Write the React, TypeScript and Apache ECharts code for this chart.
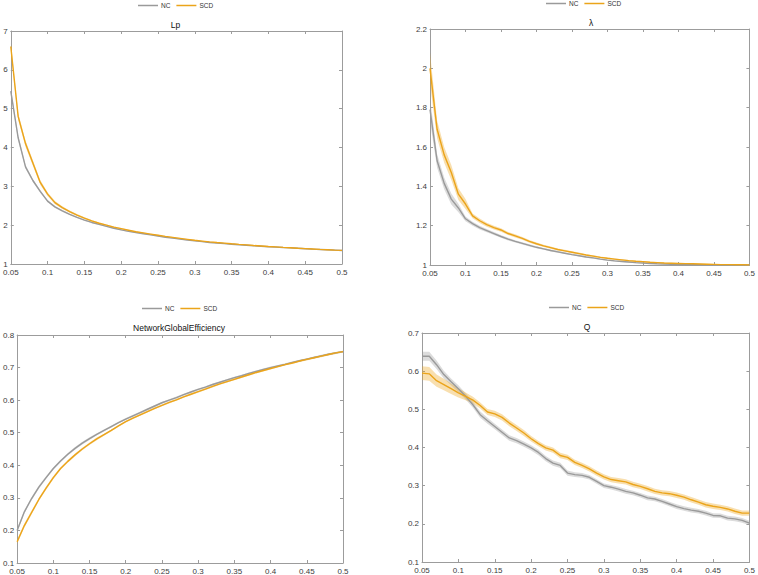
import React, { useEffect, useRef } from 'react';
import * as echarts from 'echarts';

// sparsity thresholds
const X = [0.05, 0.06, 0.07, 0.08, 0.09, 0.1, 0.11, 0.12, 0.13, 0.14, 0.15, 0.16, 0.17, 0.18, 0.19, 0.2, 0.21, 0.22, 0.23, 0.24, 0.25, 0.26, 0.27, 0.28, 0.29, 0.3, 0.31, 0.32, 0.33, 0.34, 0.35, 0.36, 0.37, 0.38, 0.39, 0.4, 0.41, 0.42, 0.43, 0.44, 0.45, 0.46, 0.47, 0.48, 0.49, 0.5];

// Lp
const lpNC = [5.45, 4.25, 3.5, 3.15, 2.87, 2.62, 2.47, 2.37, 2.28, 2.2, 2.13, 2.07, 2.02, 1.97, 1.92, 1.88, 1.84, 1.81, 1.78, 1.75, 1.72, 1.69, 1.665, 1.64, 1.615, 1.595, 1.575, 1.555, 1.54, 1.525, 1.51, 1.495, 1.483, 1.47, 1.458, 1.446, 1.435, 1.424, 1.414, 1.404, 1.394, 1.384, 1.375, 1.366, 1.357, 1.348];
const lpNCse = [0.09, 0.06, 0.05, 0.04, 0.035, 0.03, 0.025, 0.022, 0.02, 0.018, 0.016, 0.015, 0.014, 0.013, 0.012, 0.012, 0.011, 0.011, 0.01, 0.01, 0.01, 0.01, 0.009, 0.009, 0.009, 0.009, 0.008, 0.008, 0.008, 0.008, 0.008, 0.007, 0.007, 0.007, 0.007, 0.007, 0.006, 0.006, 0.006, 0.006, 0.006, 0.006, 0.006, 0.006, 0.006, 0.006];
const lpSCD = [6.6, 4.8, 4.1, 3.6, 3.1, 2.8, 2.58, 2.45, 2.35, 2.26, 2.18, 2.11, 2.05, 2.0, 1.95, 1.91, 1.87, 1.83, 1.8, 1.77, 1.74, 1.71, 1.685, 1.66, 1.635, 1.61, 1.59, 1.57, 1.553, 1.537, 1.521, 1.506, 1.492, 1.478, 1.465, 1.452, 1.44, 1.428, 1.417, 1.406, 1.396, 1.386, 1.376, 1.367, 1.358, 1.35];
const lpSCDse = [0.12, 0.09, 0.08, 0.07, 0.06, 0.05, 0.04, 0.035, 0.03, 0.027, 0.024, 0.022, 0.02, 0.018, 0.016, 0.015, 0.014, 0.013, 0.012, 0.012, 0.011, 0.011, 0.01, 0.01, 0.01, 0.009, 0.009, 0.009, 0.008, 0.008, 0.008, 0.008, 0.007, 0.007, 0.007, 0.007, 0.007, 0.006, 0.006, 0.006, 0.006, 0.006, 0.006, 0.006, 0.006, 0.006];

// lambda
const lamNC = [1.79, 1.53, 1.415, 1.335, 1.29, 1.235, 1.21, 1.19, 1.175, 1.16, 1.145, 1.132, 1.12, 1.11, 1.1, 1.09, 1.082, 1.074, 1.067, 1.06, 1.053, 1.047, 1.041, 1.036, 1.03, 1.025, 1.021, 1.018, 1.015, 1.012, 1.01, 1.008, 1.006, 1.005, 1.004, 1.003, 1.002, 1.002, 1.001, 1.001, 1.0, 1.0, 1.0, 1.0, 1.0, 1.0];
const lamNCse = [0.06, 0.035, 0.03, 0.028, 0.022, 0.012, 0.01, 0.009, 0.008, 0.008, 0.007, 0.007, 0.006, 0.006, 0.006, 0.005, 0.005, 0.005, 0.005, 0.004, 0.004, 0.004, 0.004, 0.004, 0.003, 0.003, 0.003, 0.003, 0.003, 0.003, 0.002, 0.002, 0.002, 0.002, 0.002, 0.002, 0.002, 0.002, 0.002, 0.002, 0.002, 0.002, 0.002, 0.002, 0.002, 0.002];
const lamSCD = [2.0, 1.69, 1.56, 1.47, 1.36, 1.31, 1.25, 1.225, 1.205, 1.19, 1.178, 1.16, 1.148, 1.135, 1.12, 1.108, 1.097, 1.088, 1.079, 1.072, 1.065, 1.058, 1.051, 1.045, 1.039, 1.034, 1.03, 1.026, 1.022, 1.019, 1.017, 1.014, 1.012, 1.01, 1.009, 1.008, 1.007, 1.006, 1.005, 1.004, 1.003, 1.002, 1.002, 1.001, 1.001, 1.0];
const lamSCDse = [0.08, 0.045, 0.04, 0.038, 0.03, 0.025, 0.012, 0.011, 0.01, 0.01, 0.009, 0.008, 0.008, 0.007, 0.007, 0.006, 0.006, 0.006, 0.005, 0.005, 0.005, 0.005, 0.004, 0.004, 0.004, 0.004, 0.003, 0.003, 0.003, 0.003, 0.003, 0.002, 0.002, 0.002, 0.002, 0.002, 0.002, 0.002, 0.002, 0.002, 0.002, 0.002, 0.002, 0.002, 0.002, 0.002];

// NetworkGlobalEfficiency
const geNC = [0.2, 0.257, 0.298, 0.333, 0.362, 0.39, 0.413, 0.434, 0.452, 0.468, 0.482, 0.495, 0.507, 0.519, 0.531, 0.542, 0.552, 0.562, 0.572, 0.582, 0.592, 0.6, 0.608, 0.617, 0.625, 0.633, 0.64, 0.648, 0.655, 0.662, 0.669, 0.675, 0.682, 0.688, 0.694, 0.7, 0.705, 0.71, 0.716, 0.721, 0.726, 0.731, 0.736, 0.741, 0.745, 0.749];
const geNCse = [0.006, 0.005, 0.005, 0.005, 0.004, 0.004, 0.004, 0.004, 0.004, 0.004, 0.004, 0.003, 0.003, 0.003, 0.003, 0.003, 0.003, 0.003, 0.003, 0.003, 0.003, 0.003, 0.003, 0.003, 0.003, 0.003, 0.003, 0.003, 0.003, 0.003, 0.003, 0.003, 0.003, 0.003, 0.003, 0.003, 0.003, 0.003, 0.003, 0.003, 0.003, 0.003, 0.003, 0.003, 0.003, 0.003];
const geSCD = [0.165, 0.215, 0.255, 0.295, 0.33, 0.362, 0.39, 0.412, 0.432, 0.45, 0.466, 0.481, 0.494, 0.507, 0.521, 0.534, 0.545, 0.555, 0.565, 0.575, 0.584, 0.593, 0.601, 0.61, 0.618, 0.626, 0.634, 0.642, 0.65, 0.657, 0.664, 0.671, 0.678, 0.685, 0.691, 0.697, 0.703, 0.709, 0.714, 0.72, 0.725, 0.73, 0.735, 0.74, 0.745, 0.749];
const geSCDse = [0.007, 0.006, 0.006, 0.005, 0.005, 0.005, 0.004, 0.004, 0.004, 0.004, 0.004, 0.004, 0.003, 0.003, 0.003, 0.003, 0.003, 0.003, 0.003, 0.003, 0.003, 0.003, 0.003, 0.003, 0.003, 0.003, 0.003, 0.003, 0.003, 0.003, 0.003, 0.003, 0.003, 0.003, 0.003, 0.003, 0.003, 0.003, 0.003, 0.003, 0.003, 0.003, 0.003, 0.003, 0.003, 0.003];

// Q
const qNC = [0.639, 0.639, 0.617, 0.591, 0.572, 0.554, 0.534, 0.512, 0.486, 0.47, 0.455, 0.44, 0.425, 0.418, 0.409, 0.399, 0.387, 0.371, 0.359, 0.353, 0.333, 0.329, 0.327, 0.322, 0.311, 0.3, 0.296, 0.291, 0.285, 0.281, 0.275, 0.268, 0.265, 0.259, 0.252, 0.245, 0.24, 0.236, 0.233, 0.228, 0.222, 0.221, 0.215, 0.213, 0.209, 0.202];
const qNCse = [0.012, 0.012, 0.011, 0.01, 0.009, 0.009, 0.008, 0.008, 0.008, 0.008, 0.007, 0.007, 0.007, 0.007, 0.007, 0.007, 0.007, 0.007, 0.007, 0.007, 0.007, 0.006, 0.006, 0.006, 0.006, 0.006, 0.006, 0.006, 0.006, 0.006, 0.006, 0.006, 0.006, 0.006, 0.006, 0.006, 0.006, 0.006, 0.006, 0.006, 0.006, 0.006, 0.006, 0.006, 0.006, 0.006];
const qSCD = [0.595, 0.593, 0.575, 0.565, 0.554, 0.543, 0.534, 0.524, 0.51, 0.493, 0.488, 0.479, 0.464, 0.451, 0.438, 0.423, 0.41, 0.399, 0.393, 0.379, 0.374, 0.361, 0.353, 0.344, 0.333, 0.323, 0.316, 0.313, 0.31, 0.303, 0.298, 0.292, 0.285, 0.281, 0.279, 0.275, 0.27, 0.263, 0.257, 0.25, 0.246, 0.243, 0.239, 0.233, 0.228, 0.228];
const qSCDse = [0.018, 0.018, 0.016, 0.015, 0.014, 0.012, 0.01, 0.009, 0.008, 0.008, 0.008, 0.008, 0.008, 0.008, 0.008, 0.007, 0.007, 0.007, 0.007, 0.007, 0.007, 0.007, 0.007, 0.007, 0.007, 0.007, 0.007, 0.007, 0.007, 0.007, 0.007, 0.007, 0.007, 0.007, 0.007, 0.007, 0.007, 0.007, 0.007, 0.007, 0.007, 0.007, 0.007, 0.007, 0.007, 0.007];

const NC_COLOR = '#9a9a9a';
const SCD_COLOR = '#EBA41A';
const AXIS_COLOR = '#9c9c9c';
const LABEL_COLOR = '#3c3c3c';
const FONT = '"Liberation Sans", Arial, Helvetica, sans-serif';

type Panel = {
  grid: { left: number; top: number; width: number; height: number };
  ymin: number; ymax: number; yint: number;
  title: string; titleY: number;
  legendLeft: number; legendTop: number;
  nc: number[]; ncSe: number[]; scd: number[]; scdSe: number[];
};

const panels: Panel[] = [
  { grid: { left: 9, top: 31, width: 333, height: 233 }, ymin: 1, ymax: 7, yint: 1, title: 'Lp', titleY: 25, legendLeft: 138, legendTop: 2, nc: lpNC, ncSe: lpNCse, scd: lpSCD, scdSe: lpSCDse },
  { grid: { left: 430, top: 29, width: 322, height: 236 }, ymin: 1, ymax: 2.2, yint: 0.2, title: 'λ', titleY: 23, legendLeft: 546, legendTop: 0, nc: lamNC, ncSe: lamNCse, scd: lamSCD, scdSe: lamSCDse },
  { grid: { left: 15, top: 335, width: 328, height: 228 }, ymin: 0.1, ymax: 0.8, yint: 0.1, title: 'NetworkGlobalEfficiency', titleY: 328, legendLeft: 142, legendTop: 305, nc: geNC, ncSe: geNCse, scd: geSCD, scdSe: geSCDse },
  { grid: { left: 422, top: 333, width: 330, height: 229 }, ymin: 0.1, ymax: 0.7, yint: 0.1, title: 'Q', titleY: 327, legendLeft: 549, legendTop: 304, nc: qNC, ncSe: qNCse, scd: qSCD, scdSe: qSCDse },
];

function bandSeries(i: number, m: number[], se: number[], color: string, name: string) {
  return {
    name, type: 'custom', xAxisIndex: 2 * i, yAxisIndex: 2 * i,
    silent: true, clip: true, z: 1,
    data: [[X[0], m[0]]],
    renderItem: (params: any, api: any) => {
      const upper = X.map((x, k) => api.coord([x, m[k] + se[k]]));
      const lower = X.map((x, k) => api.coord([x, m[k] - se[k]])).reverse();
      const cs = params.coordSys;
      return {
        type: 'polygon',
        shape: { points: upper.concat(lower) },
        style: { fill: color, opacity: 0.35, stroke: 'none' },
        clipPath: { type: 'rect', shape: { x: cs.x, y: cs.y, width: cs.width, height: cs.height } },
      };
    },
  };
}

function buildOption() {
  const grids: any[] = [];
  const xAxes: any[] = [];
  const yAxes: any[] = [];
  const legends: any[] = [];
  const series: any[] = [];
  const graphics: any[] = [];

  panels.forEach((p, i) => {
    grids.push({ ...p.grid, containLabel: false, show: false });
    const baseX = {
      type: 'value', gridIndex: i, min: 0.05, max: 0.5, interval: 0.05,
      axisLine: { show: true, onZero: false, lineStyle: { color: AXIS_COLOR, width: 1 } },
      axisTick: { show: true, inside: true, length: 3, lineStyle: { color: AXIS_COLOR } },
      splitLine: { show: false },
    };
    xAxes.push({ ...baseX, position: 'bottom', axisLabel: { show: true, color: LABEL_COLOR, fontSize: 8, fontFamily: FONT, margin: 4 } });
    xAxes.push({ ...baseX, position: 'top', axisLabel: { show: false } });
    const baseY = {
      type: 'value', gridIndex: i, min: p.ymin, max: p.ymax, interval: p.yint,
      axisLine: { show: true, onZero: false, lineStyle: { color: AXIS_COLOR, width: 1 } },
      axisTick: { show: true, inside: true, length: 3, lineStyle: { color: AXIS_COLOR } },
      splitLine: { show: false },
    };
    yAxes.push({ ...baseY, position: 'left', axisLabel: { show: true, color: LABEL_COLOR, fontSize: 8, fontFamily: FONT, margin: 3 } });
    yAxes.push({ ...baseY, position: 'right', axisLabel: { show: false } });

    legends.push({
      left: p.legendLeft, top: p.legendTop, orient: 'horizontal',
      data: ['NC', 'SCD'], icon: 'rect', itemWidth: 20, itemHeight: 1.5, itemGap: 6,
      textStyle: { fontSize: 6.5, color: '#333', fontFamily: FONT, padding: [0, 0, 0, -2] },
      selectedMode: false, padding: 0,
    });

    graphics.push({
      type: 'text', x: p.grid.left + p.grid.width / 2, y: p.titleY,
      style: { text: p.title, fill: '#111', font: `8.5px ${FONT}`, textAlign: 'center', textVerticalAlign: 'middle' },
    });

    series.push(bandSeries(i, p.nc, p.ncSe, NC_COLOR, `NC-band-${i}`));
    series.push(bandSeries(i, p.scd, p.scdSe, SCD_COLOR, `SCD-band-${i}`));

    const groups = [
      { name: 'NC', m: p.nc, color: NC_COLOR },
      { name: 'SCD', m: p.scd, color: SCD_COLOR },
    ];
    groups.forEach((g) => {
      series.push({
        name: g.name, type: 'line', xAxisIndex: 2 * i, yAxisIndex: 2 * i,
        symbol: 'none', showSymbol: false, clip: true, z: 5,
        itemStyle: { color: g.color },
        lineStyle: { color: g.color, width: 1.4 },
        data: X.map((x, k) => [x, g.m[k]]),
      });
    });
  });

  return {
    animation: false,
    backgroundColor: '#ffffff',
    textStyle: { fontFamily: FONT },
    grid: grids,
    xAxis: xAxes,
    yAxis: yAxes,
    legend: legends,
    series,
    graphic: graphics,
  };
}

export default function App() {
  const ref = useRef<HTMLDivElement>(null);
  useEffect(() => {
    document.body.style.margin = '0';
    const chart = echarts.init(ref.current as HTMLDivElement, null, { renderer: 'svg' });
    chart.setOption(buildOption() as any);
    return () => chart.dispose();
  }, []);
  return <div ref={ref} style={{ width: 758, height: 575 }} />;
}
